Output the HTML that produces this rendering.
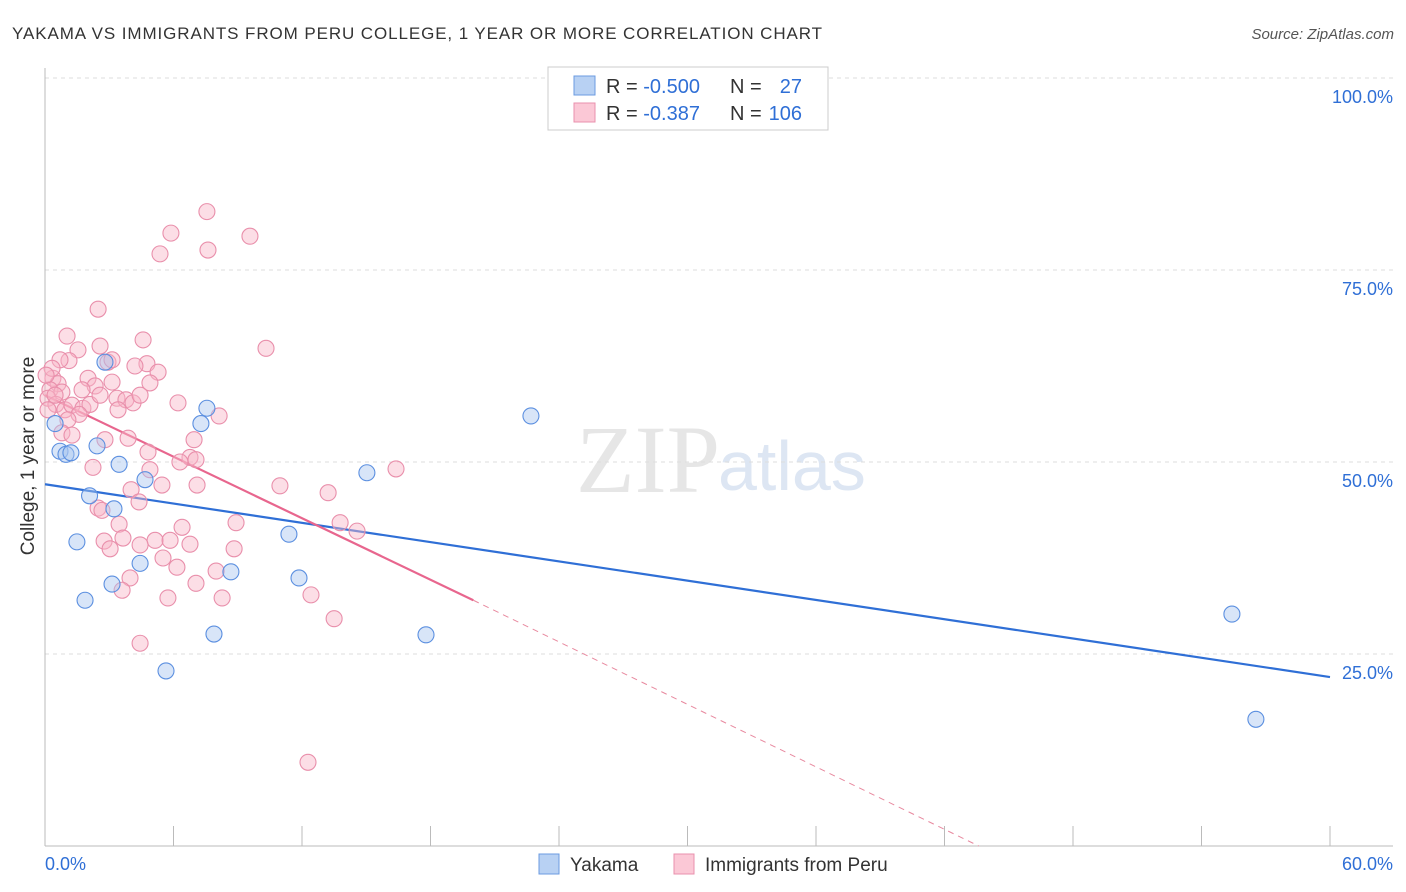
<!DOCTYPE html>
<html><head><meta charset="utf-8"><style>
body{margin:0;background:#fff;font-family:"Liberation Sans",sans-serif;}
svg{display:block}
</style></head><body>
<svg width="1406" height="892" id="chart">
<text x="12" y="39" font-size="17" fill="#333" textLength="810" lengthAdjust="spacing">YAKAMA VS IMMIGRANTS FROM PERU COLLEGE, 1 YEAR OR MORE CORRELATION CHART</text>
<text x="1394" y="39" font-size="15" fill="#555" font-style="italic" text-anchor="end">Source: ZipAtlas.com</text>
<text x="720" y="492" font-size="96" fill="#e6e6e6" font-family="Liberation Serif" text-anchor="end">ZIP</text>
<text x="718" y="490" font-size="70" fill="#dde6f3">atlas</text>
<text transform="translate(34,456) rotate(-90)" font-size="19" fill="#333" text-anchor="middle">College, 1 year or more</text>
<g id="grid"></g><g id="axes"></g><g id="lines"></g><g id="pts"></g>
<g>
<rect x="548" y="67" width="280" height="63" fill="#fff" stroke="#ccc"/>
<rect x="574" y="76" width="21" height="19" fill="#b8d1f3" stroke="#6b9be0"/>
<rect x="574" y="103" width="21" height="19" fill="#fbc8d6" stroke="#ea90ad"/>
<text x="606" y="93" font-size="20" fill="#333">R = <tspan fill="#2f6fd6">-0.500</tspan></text>
<text x="730" y="93" font-size="20" fill="#333">N =</text><text x="802" y="93" font-size="20" fill="#2f6fd6" text-anchor="end">27</text>
<text x="606" y="120" font-size="20" fill="#333">R =  <tspan fill="#2f6fd6">-0.387</tspan></text>
<text x="730" y="120" font-size="20" fill="#333">N =</text><text x="802" y="120" font-size="20" fill="#2f6fd6" text-anchor="end">106</text>
</g>
<g>
<rect x="539" y="854" width="20" height="20" fill="#b8d1f3" stroke="#6b9be0"/>
<text x="570" y="871" font-size="19" fill="#333">Yakama</text>
<rect x="674" y="854" width="20" height="20" fill="#fbc8d6" stroke="#ea90ad"/>
<text x="705" y="871" font-size="19" fill="#333">Immigrants from Peru</text>
</g>
</svg>
<script>
const yTicks=[25,50,75,100];
const xTickLabels=["0.0%","60.0%"];
const blueX=[0.47,0.70,0.98,1.21,1.49,1.87,2.08,2.43,2.80,3.13,3.22,3.46,4.44,4.67,5.65,7.28,7.56,7.89,8.68,11.39,11.86,15.03,17.79,22.69,55.42,56.54];
const blueY=[55.0,51.4,51.0,51.2,39.6,32.0,45.6,52.1,63.0,34.1,43.9,49.7,36.8,47.7,22.8,55.0,57.0,27.6,35.7,40.6,34.9,48.6,27.5,56.0,30.2,16.5];
const pinkX=[7.56,5.88,9.57,5.37,7.61,2.48,1.03,4.58,10.32,1.54,2.57,1.12,2.94,4.76,4.20,5.28,2.01,3.13,4.90,2.34,0.37,0.61,0.23,0.79,0.14,0.51,0.93,1.26,1.77,2.10,2.57,3.36,3.78,4.11,3.41,1.59,1.07,0.79,1.26,6.21,8.13,2.80,3.88,4.81,6.96,2.24,4.90,6.77,7.05,5.46,7.10,10.97,13.22,16.39,4.02,4.39,2.48,2.66,3.46,8.92,6.40,13.78,14.57,2.76,3.64,5.14,5.84,6.77,3.04,8.83,4.44,5.51,6.16,7.99,3.97,7.05,3.60,5.74,8.27,12.42,13.50,4.44,12.28,0.70,0.33,0.05,0.47,0.14,1.73,3.13,4.44,6.30];
const pinkY=[82.6,79.8,79.4,77.1,77.6,69.9,66.4,65.9,64.8,64.6,65.1,63.2,63.0,62.8,62.5,61.7,60.9,60.4,60.3,59.9,60.9,60.2,59.4,59.1,58.3,57.5,56.8,57.4,57.0,57.5,58.7,58.3,58.1,57.7,56.8,56.2,55.5,53.8,53.5,57.7,56.0,52.9,53.1,51.3,52.9,49.3,49.0,50.6,50.3,47.0,47.0,46.9,46.0,49.1,46.4,44.8,44.0,43.7,41.9,42.1,41.5,42.1,41.0,39.7,40.1,39.8,39.8,39.3,38.7,38.7,39.2,37.5,36.3,35.8,34.9,34.2,33.3,32.3,32.3,32.7,29.6,26.4,10.9,63.3,62.2,61.3,58.7,56.8,59.4,63.3,58.7,50.0];
const blueTrend=[[0,47.1],[60,22.0]];
const pinkTrendSolid=[[0,58.7],[20,32.0]];
const pinkTrendDash=[[20,32.0],[43.6,0]];
const NS="http://www.w3.org/2000/svg";
const X=v=>45+v/60*1285, Y=v=>846-v/100*768;
function mk(tag,attrs,parent){const e=document.createElementNS(NS,tag);for(const k in attrs)e.setAttribute(k,attrs[k]);document.getElementById(parent).appendChild(e);return e;}
yTicks.forEach(t=>{
 const g=mk('line',{x1:45,x2:1393,y1:Y(t),y2:Y(t),stroke:'#ddd','stroke-dasharray':'4,4'},'grid');
 
 
 const l=mk('text',{x:1393,y:Y(t)+25,'font-size':18,fill:'#2f6fd6','text-anchor':'end'},'grid');
 l.textContent=t.toFixed(1)+'%';
 
 
});
const ax=mk('line',{x1:45,x2:45,y1:68,y2:846,stroke:'#bbb'},'axes');


const bx=mk('line',{x1:45,x2:1393,y1:846,y2:846,stroke:'#bbb'},'axes');


for(let i=0;i<=10;i++){const t=mk('line',{x1:X(i*6),x2:X(i*6),y1:826,y2:846,stroke:'#bbb'},'axes');
 
 }
[[0,'start'],[60,'end']].forEach((p,i)=>{const t=mk('text',{x:i?1393:45,y:870,'font-size':18,fill:'#2f6fd6','text-anchor':p[1]},'axes');t.textContent=xTickLabels[i];
 
 });
function pts(xs,ys,fill,stroke,name){xs.forEach((x,i)=>{const c=mk('circle',{cx:X(x),cy:Y(ys[i]),r:8,fill:fill,'fill-opacity':0.45,stroke:stroke,'stroke-width':1.1},'pts');
 
 });}
pts(pinkX,pinkY,'#f8b5c8','#e98fab','peru-point');
pts(blueX,blueY,'#a9c6ef','#5b8fe0','yakama-point');
function ln(p,col,w,dash,name){const l=mk('line',{x1:X(p[0][0]),y1:Y(p[0][1]),x2:X(p[1][0]),y2:Y(p[1][1]),stroke:col,'stroke-width':w},'lines');if(dash)l.setAttribute('stroke-dasharray',dash);
 
 }
ln(blueTrend,'#2f6fd6',2.2,null,'yakama-trendline');
ln(pinkTrendSolid,'#e8668e',2.2,null,'peru-trendline');
ln(pinkTrendDash,'#e8899f',1,'6,5','peru-trendline-extension');
</script>
</body></html>
